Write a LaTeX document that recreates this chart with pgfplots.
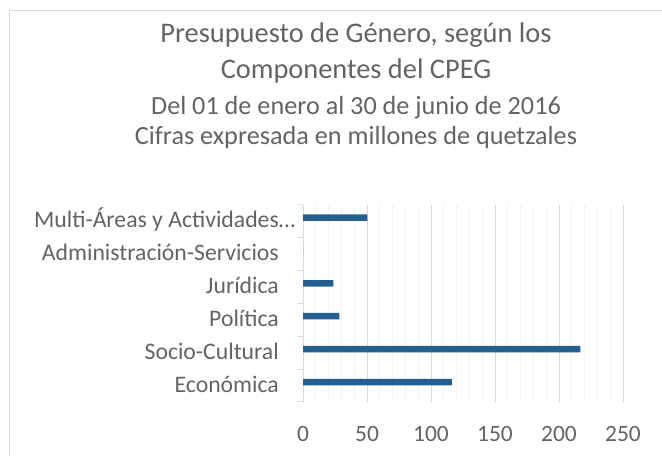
\documentclass[border=0pt]{standalone}
\usepackage{pgfplots}
\pgfplotsset{compat=1.18}
\usepackage{fontspec}
\setmainfont{Carlito}
\definecolor{txt}{HTML}{636363}
\definecolor{barc}{HTML}{255E91}
\definecolor{majg}{HTML}{D9D9D9}
\definecolor{ming}{HTML}{F2F2F2}
\begin{document}
\begin{tikzpicture}[x=1bp,y=1bp]
\useasboundingbox (0,0) rectangle (662,456);
\draw[majg, line width=1bp] (9,-5) -- (9,445) -- (670,445);
\node[anchor=base, text=txt, font=\fontsize{28.5}{34}\selectfont] at (356,413.7) {Presupuesto de Género, según los};
\node[anchor=base, text=txt, font=\fontsize{28.5}{34}\selectfont] at (356,377.7) {Componentes del CPEG};
\node[anchor=base, text=txt, font=\fontsize{26.3}{31}\selectfont] at (356,341) {Del 01 de enero al 30 de junio de 2016};
\node[anchor=base, text=txt, font=\fontsize{26.3}{31}\selectfont] at (356,311) {Cifras expresada en millones de quetzales};
\begin{axis}[
  at={(303bp,54bp)}, anchor=south west,
  scale only axis, width=320bp, height=197.4bp,
  xbar, bar width=6.5bp, bar shift=3.5bp,
  xmin=0, xmax=250, ymin=-0.5, ymax=5.5,
  axis lines*=left,
  x axis line style={draw=none},
  y axis line style={majg, line width=1bp},
  xtick={0,50,...,250},
  minor x tick num=4,
  xmajorgrids, xminorgrids,
  major x grid style={majg, line width=1bp},
  minor x grid style={ming, line width=1bp},
  major tick length=0pt,
  minor tick length=5bp,
  tick align=outside,
  tick style={majg, line width=1bp},
  minor x tick style={draw=none},
  ytick={0,1,2,3,4,5},
  minor ytick={-0.5,0.5,1.5,2.5,3.5,4.5,5.5},
  yticklabels={Económica,Socio-Cultural,Política,Jurídica,Administración-Servicios,Multi-Áreas y Actividades\rlap{…}},
  /pgf/number format/assume math mode=true,
  yticklabel style={anchor=base east, inner sep=0pt, xshift=-24bp, yshift=-6.8bp, text=txt, font=\fontsize{23.8}{28}\selectfont},
  xticklabel style={anchor=north, inner sep=0pt, yshift=-24bp, text=txt, font=\fontsize{23.5}{28}\selectfont},
]
\addplot[fill=barc, draw=none] coordinates {(116.4,0) (216.7,1) (28.4,2) (23.7,3) (0,4) (50.3,5)};
\end{axis}
\end{tikzpicture}
\end{document}
